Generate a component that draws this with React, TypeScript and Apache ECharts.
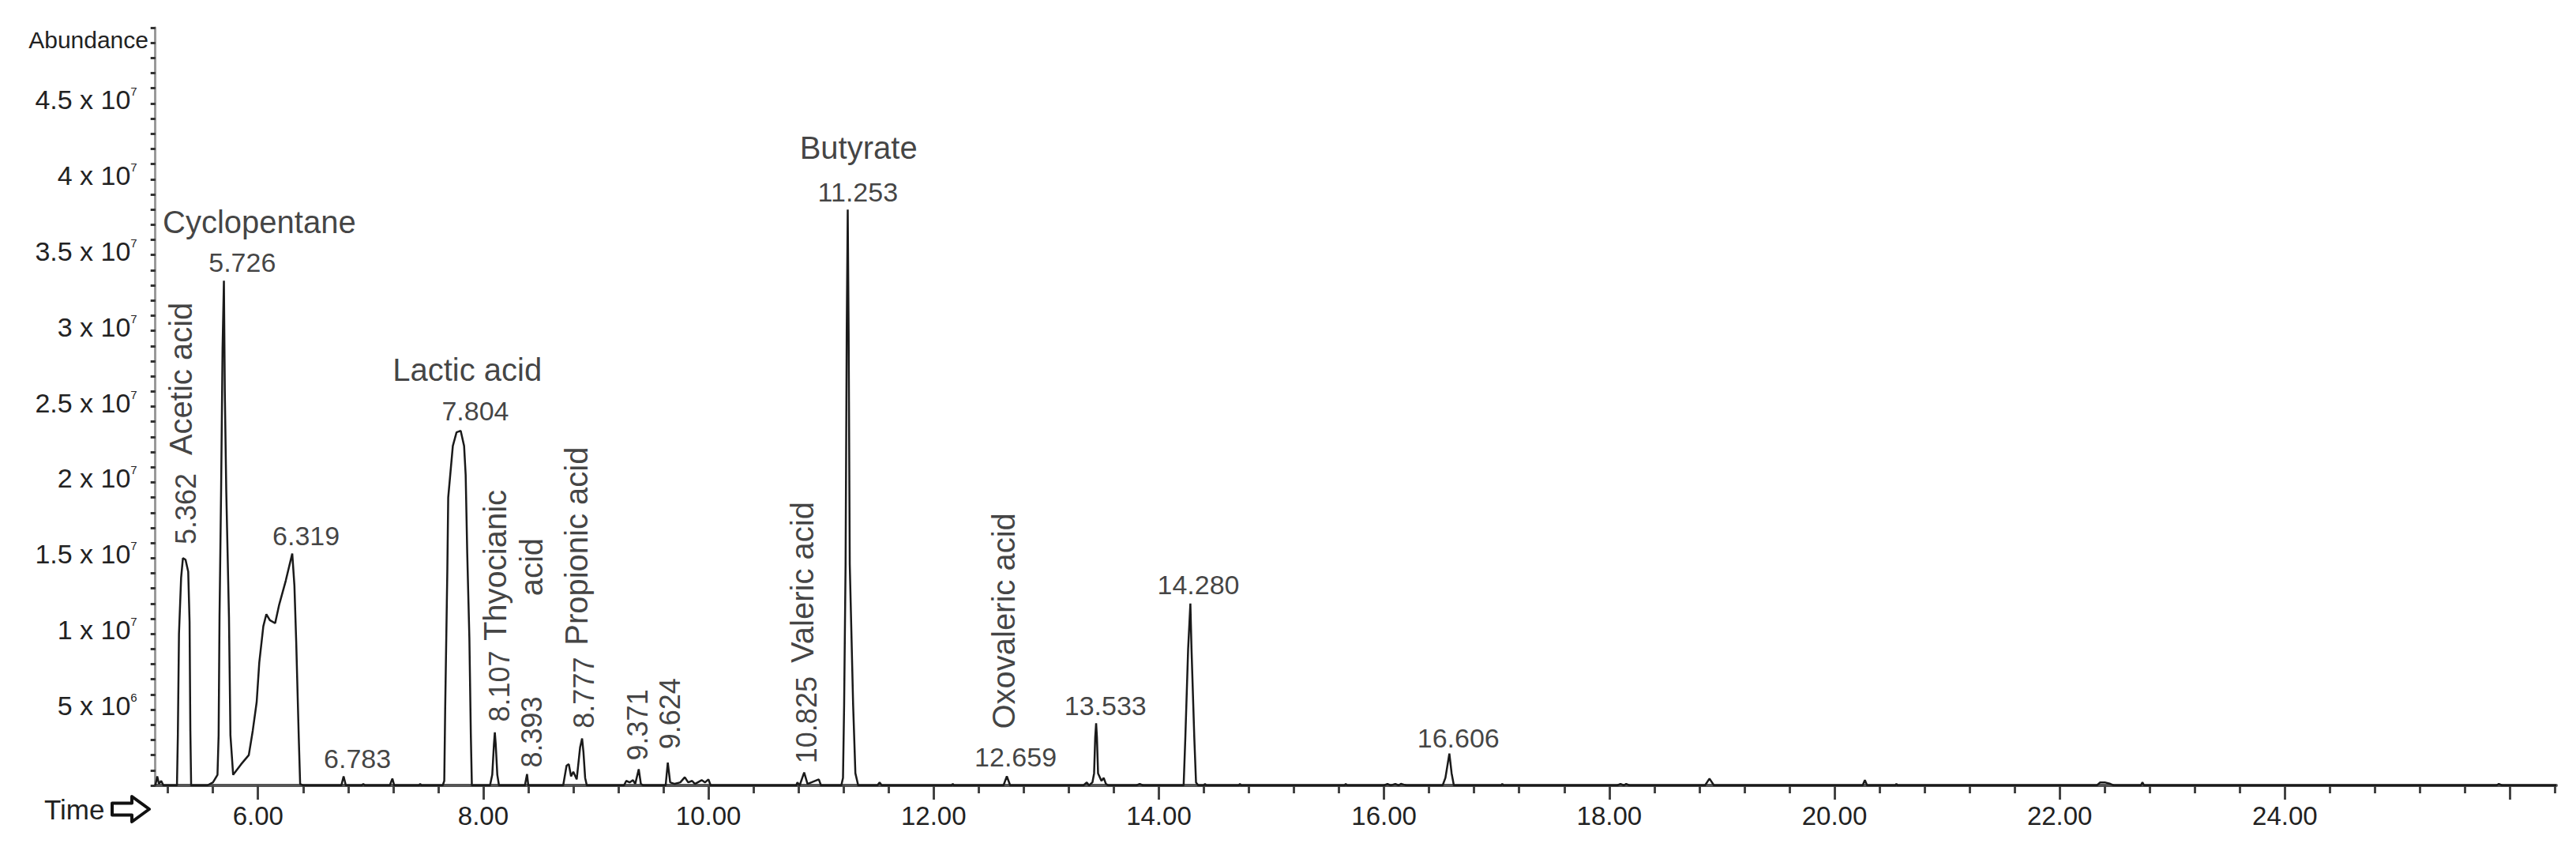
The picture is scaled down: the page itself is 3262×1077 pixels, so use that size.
import React, { useEffect, useRef } from 'react';
import * as echarts from 'echarts';

const FONT = '"Liberation Sans", Arial, Helvetica, sans-serif';

// Chromatogram trace: retention time (min) and abundance (counts)
const times = [
  5.088, 5.105, 5.12, 5.14, 5.16, 5.28, 5.288, 5.298, 5.317, 5.333, 5.356, 5.38, 5.392, 5.399, 5.406,
  5.55, 5.6, 5.64, 5.65, 5.658, 5.672, 5.685, 5.697, 5.705, 5.718, 5.742, 5.755, 5.779,
  5.85, 5.918, 5.953, 5.988, 6.011, 6.047, 6.074, 6.105, 6.152, 6.187, 6.246, 6.304, 6.323, 6.339, 6.362, 6.374, 6.4,
  6.74, 6.76, 6.78, 6.92, 6.935, 6.95, 7.17, 7.193, 7.21, 7.43, 7.44, 7.45,
  7.64, 7.654, 7.662, 7.681, 7.689, 7.73, 7.763, 7.8, 7.83, 7.844, 7.858, 7.877, 7.89, 7.899,
  8.06, 8.08, 8.095, 8.103, 8.111, 8.125, 8.14, 8.37, 8.389, 8.4,
  8.71, 8.74, 8.76, 8.78, 8.8, 8.83, 8.86, 8.878, 8.89, 8.905, 8.92,
  9.25, 9.27, 9.3, 9.33, 9.35, 9.381, 9.4, 9.42, 9.62, 9.639, 9.66, 9.7, 9.75, 9.79, 9.82, 9.855, 9.88, 9.94, 9.97, 10.0, 10.02,
  10.78, 10.79, 10.81, 10.85, 10.88, 10.98, 11.0,
  11.18, 11.195, 11.205, 11.218, 11.228, 11.237, 11.245, 11.255, 11.265, 11.285, 11.305, 11.33,
  11.5, 11.52, 11.54, 12.16, 12.17, 12.18, 12.62, 12.65, 12.68,
  13.33, 13.36, 13.38, 13.41, 13.425, 13.435, 13.443, 13.45, 13.46, 13.49, 13.51, 13.53, 13.55, 13.8, 13.83, 13.86,
  14.22, 14.235, 14.26, 14.28, 14.29, 14.315, 14.33, 14.35, 14.4, 14.41, 14.42, 14.71, 14.72, 14.73,
  15.65, 15.66, 15.67, 16.0, 16.03, 16.06, 16.1, 16.13, 16.15, 16.2,
  16.52, 16.545, 16.58, 16.6, 16.62, 17.04, 17.05, 17.06, 18.07, 18.1, 18.13, 18.15, 18.18,
  18.85, 18.89, 18.93, 20.25, 20.27, 20.29, 20.54, 20.55, 20.56,
  22.33, 22.36, 22.4, 22.45, 22.48, 22.72, 22.735, 22.75, 25.88, 25.9, 25.93, 26.41,
];
const abundance = [
  0, 600000, 100000, 300000, 0, 0, 3300000, 10000000, 13700000, 15000000, 14900000, 14100000, 10800000, 3600000, 0,
  0, 200000, 700000, 3300000, 11100000, 19400000, 28800000, 33300000, 26000000, 19400000, 11100000, 3300000, 700000,
  1400000, 2000000, 3600000, 5500000, 8100000, 10500000, 11300000, 10900000, 10700000, 11900000, 13500000, 15300000, 13200000, 9500000, 3100000, 100000, 0,
  0, 600000, 0, 0, 100000, 0, 0, 450000, 0, 0, 100000, 0,
  0, 300000, 5000000, 14100000, 19000000, 22400000, 23300000, 23400000, 22400000, 20500000, 15300000, 9700000, 3300000, 0,
  0, 700000, 2700000, 3500000, 2700000, 700000, 0, 0, 750000, 0,
  0, 1300000, 1400000, 600000, 900000, 400000, 2500000, 3100000, 2200000, 500000, 0,
  0, 300000, 200000, 350000, 100000, 1070000, 100000, 0, 0, 1500000, 200000, 100000, 200000, 540000, 200000, 300000, 100000, 350000, 200000, 400000, 0,
  0, 200000, 0, 850000, 100000, 400000, 0,
  0, 500000, 5300000, 14600000, 29800000, 38000000, 29800000, 14600000, 11500000, 5300000, 800000, 0,
  0, 200000, 0, 0, 100000, 0, 0, 600000, 0,
  0, 200000, 0, 200000, 800000, 3200000, 4100000, 3200000, 800000, 300000, 500000, 100000, 0, 0, 100000, 0,
  0, 3100000, 9000000, 12000000, 9000000, 3100000, 200000, 0, 0, 100000, 0, 0, 100000, 0,
  0, 100000, 0, 0, 100000, 0, 100000, 0, 100000, 0,
  0, 500000, 2100000, 800000, 0, 0, 100000, 0, 0, 100000, 0, 100000, 0,
  0, 450000, 0, 0, 350000, 0, 0, 100000, 0,
  0, 200000, 200000, 100000, 0, 0, 200000, 0, 0, 100000, 0, 0,
];

// Axis ticks / labels
const xMajorTicks = [6, 8, 10, 12, 14, 16, 18, 20, 22, 24, 26];
const xLabelTicks = [6, 8, 10, 12, 14, 16, 18, 20, 22, 24];
const xMinorTicks = [
  5.2, 5.6, 6.4, 6.8, 7.2, 7.6, 8.4, 8.8, 9.2, 9.6, 10.4, 10.8, 11.2, 11.6, 12.4, 12.8, 13.2, 13.6,
  14.4, 14.8, 15.2, 15.6, 16.4, 16.8, 17.2, 17.6, 18.4, 18.8, 19.2, 19.6, 20.4, 20.8, 21.2, 21.6,
  22.4, 22.8, 23.2, 23.6, 24.4, 24.8, 25.2, 25.6, 26.4,
];

// Annotations: horizontal compound names
const hNameTexts = ['Cyclopentane', 'Lactic acid', 'Butyrate'];
const hNameTimes = [6.011, 7.858, 11.333];
const hNameAbund = [37190000, 27400000, 42090000];

// Annotations: horizontal retention times
const hRtTexts = ['5.726', '6.319', '6.783', '7.804', '11.253', '12.659', '13.533', '14.280', '16.606'];
const hRtTimes = [5.86, 6.427, 6.883, 7.93, 11.327, 12.728, 13.525, 14.351, 16.66];
const hRtAbund = [34490000, 16450000, 1770000, 24730000, 39150000, 1885000, 5245000, 13230000, 3125000];

// Annotations: vertical compound names
const vNameTexts = ['Acetic acid', 'Thyocianic', 'acid', 'Propionic acid', 'Valeric acid', 'Oxovaleric acid'];
const vNameTimes = [5.316, 8.103, 8.43, 8.83, 10.837, 12.62];
const vNameAbund = [26830000, 14520000, 14410000, 15790000, 13400000, 10850000];

// Annotations: vertical retention times
const vRtTexts = ['5.362', '8.107', '8.393', '8.777', '9.371', '9.624', '10.825'];
const vRtTimes = [5.357, 8.143, 8.43, 8.898, 9.374, 9.66, 10.87];
const vRtAbund = [18245000, 6540000, 3516000, 6120000, 3995000, 4734000, 4320000];

const X_MIN = 5.088;
const X_MAX = 26.41;

function labelSeries(texts: string[], ts: number[], vs: number[], rotate: number, fontSize: number) {
  return {
    type: 'scatter',
    silent: true,
    symbol: 'circle',
    symbolSize: 1,
    itemStyle: { color: 'rgba(0,0,0,0)' },
    z: 5,
    data: texts.map((t, i) => ({ name: t, value: [ts[i], vs[i]] })),
    label: {
      show: true,
      position: 'inside',
      formatter: '{b}',
      rotate,
      fontSize,
      fontFamily: FONT,
      color: '#111',
      align: 'center',
      verticalAlign: 'middle',
    },
    labelLayout: { hideOverlap: false },
  };
}

function yLabel(v: number) {
  if (v <= 0 || v >= 5e7) return '';
  let m: number;
  let e: number;
  if (v < 1e7) {
    m = v / 1e6;
    e = 6;
  } else {
    m = v / 1e7;
    e = 7;
  }
  const ms = String(Math.round(m * 10) / 10);
  return `{b|${ms} x 10}{s|${e}}`;
}

export default function App() {
  const ref = useRef<HTMLDivElement>(null);
  useEffect(() => {
    const chart = echarts.init(ref.current!, null, { renderer: 'svg' });
    const tickStyle = { color: '#444', width: 3 };
    chart.setOption({
      animation: false,
      backgroundColor: '#ffffff',
      grid: { left: 196.7, right: 25, top: 35, bottom: 83, containLabel: false },
      xAxis: [
        {
          type: 'value',
          min: X_MIN,
          max: X_MAX,
          splitLine: { show: false },
          axisLine: { show: true, onZero: false, lineStyle: { color: '#555', width: 4 } },
          axisTick: { show: true, customValues: xMajorTicks, length: 18, lineStyle: tickStyle },
          axisLabel: {
            show: true,
            customValues: xLabelTicks,
            formatter: (v: number) => v.toFixed(2),
            fontSize: 33,
            fontFamily: FONT,
            color: '#222',
            margin: 22,
          },
        },
        {
          type: 'value',
          min: X_MIN,
          max: X_MAX,
          position: 'bottom',
          splitLine: { show: false },
          axisLine: { show: false, onZero: false },
          axisTick: { show: true, customValues: xMinorTicks, length: 10, lineStyle: tickStyle },
          axisLabel: { show: false },
        },
      ],
      yAxis: {
        type: 'value',
        min: 0,
        max: 5e7,
        interval: 5e6,
        splitLine: { show: false },
        axisLine: { show: true, onZero: false, lineStyle: { color: '#999', width: 3 } },
        axisTick: { show: true, length: 6, lineStyle: { color: '#333', width: 3 } },
        minorTick: { show: true, splitNumber: 5, length: 6, lineStyle: { color: '#333', width: 3 } },
        axisLabel: {
          show: true,
          margin: 23,
          formatter: yLabel,
          padding: [0, 0, 10, 0],
          rich: {
            b: { fontSize: 34, fontFamily: FONT, color: '#222', lineHeight: 36 },
            s: { fontSize: 15, fontFamily: FONT, color: '#222', verticalAlign: 'top', lineHeight: 15 },
          },
        },
      },
      graphic: [
        {
          type: 'text',
          x: 188,
          y: 50,
          style: {
            text: 'Abundance',
            font: `30px ${FONT}`,
            fill: '#222',
            textAlign: 'right',
            textVerticalAlign: 'middle',
            align: 'right',
            verticalAlign: 'middle',
          },
        },
        {
          type: 'text',
          x: 56,
          y: 1024,
          style: {
            text: 'Time',
            font: `35px ${FONT}`,
            fill: '#222',
            textAlign: 'left',
            textVerticalAlign: 'middle',
            align: 'left',
            verticalAlign: 'middle',
          },
        },
        {
          type: 'polygon',
          shape: {
            points: [
              [142, 1016.5],
              [167, 1016.5],
              [167, 1008],
              [189, 1024],
              [167, 1040],
              [167, 1031.5],
              [142, 1031.5],
            ],
          },
          style: { fill: '#fff', stroke: '#111', lineWidth: 4, lineJoin: 'round' },
        },
      ],
      series: [
        {
          type: 'line',
          name: 'TIC',
          data: times.map((t, i) => [t, abundance[i]]),
          showSymbol: false,
          symbol: 'none',
          silent: true,
          z: 3,
          lineStyle: { color: '#1a1a1a', width: 2.5 },
        },
        labelSeries(hNameTexts, hNameTimes, hNameAbund, 0, 40),
        labelSeries(hRtTexts, hRtTimes, hRtAbund, 0, 34),
        labelSeries(vNameTexts, vNameTimes, vNameAbund, 90, 40),
        labelSeries(vRtTexts, vRtTimes, vRtAbund, 90, 36),
      ],
    });
    return () => chart.dispose();
  }, []);
  return (
    <div
      ref={ref}
      style={{ position: 'absolute', left: 0, top: 0, width: 3262, height: 1077, background: '#fff' }}
    />
  );
}
